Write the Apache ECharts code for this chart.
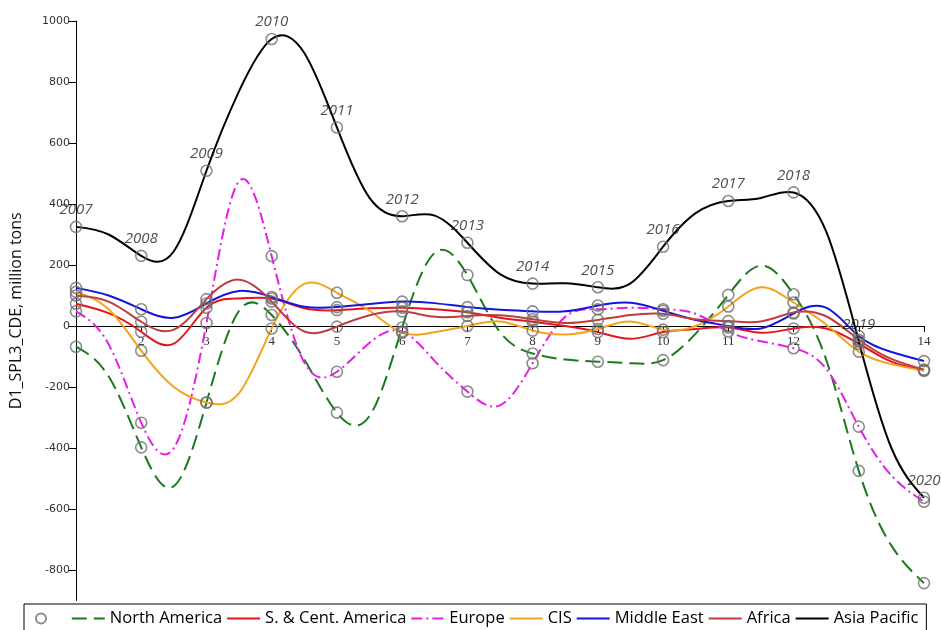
<!DOCTYPE html>
<html>
<head>
<meta charset="utf-8">
<script src="https://cdn.jsdelivr.net/npm/echarts@6/dist/echarts.min.js"></script>
<style>
  html, body { margin: 0; padding: 0; background: #fff; }
  #chart { width: 941px; height: 630px; }
</style>
</head>
<body>
<div id="chart"></div>
<script>
// Curve samples every half step; whole steps are the yearly points (1 = 2007 ... 14 = 2020)
const steps = [1, 1.5, 2, 2.5, 3, 3.5, 4, 4.5, 5, 5.5, 6, 6.5, 7, 7.5, 8,
               8.5, 9, 9.5, 10, 10.5, 11, 11.5, 12, 12.5, 13, 13.5, 14];
const years = ['2007', '2008', '2009', '2010', '2011', '2012', '2013',
               '2014', '2015', '2016', '2017', '2018', '2019', '2020'];
const xTickLabels = ['', '2', '3', '4', '5', '6', '7', '8', '9', '10', '11', '12', '13', '14'];
const yTickValues = [-800, -600, -400, -200, 0, 200, 400, 600, 800, 1000];

// D1_SPL3_CDE, million tons, per region (one value per entry of steps)
const northAmerica = [-68, -165, -398, -525, -251, 50, 36, -110, -284, -295, -5, 240, 167, -20,
                      -90, -110, -117, -122, -112, -25, 102, 198, 104, -110, -475, -720, -843];
const southCentAmerica = [73, 42, -19, -58, 60, 90, 90, 58, 52, 58, 60, 55, 45, 27,
                          14, 0, -20, -42, -20, -10, -5, -22, -8, -8, -58, -117, -145];
const europe = [48, -60, -317, -400, 10, 475, 229, -120, -150, -55, -18, -115, -215, -260,
                -122, 30, 55, 60, 55, 40, -18, -50, -73, -140, -330, -490, -576];
const cis = [112, 55, -81, -200, -251, -220, -8, 138, 109, 50, -22, -20, 0, 15,
             -15, -28, -10, 15, -12, 0, 64, 127, 77, 5, -84, -125, -147];
const middleEast = [125, 100, 55, 27, 74, 115, 95, 63, 62, 72, 80, 75, 62, 53,
                    48, 48, 67, 76, 50, 20, 0, -8, 41, 60, -33, -85, -115];
const africa = [100, 80, 14, -12, 88, 152, 80, -18, -2, 35, 48, 30, 33, 35,
                22, 10, 20, 36, 40, 22, 16, 15, 44, 32, -45, -108, -143];
const asiaPacific = [325, 300, 230, 245, 509, 770, 941, 895, 651, 420, 360, 362, 273, 170,
                     139, 140, 127, 140, 260, 370, 410, 420, 438, 310, -50, -400, -563];

const regionNames = ['North America', 'S. & Cent. America', 'Europe', 'CIS',
                     'Middle East', 'Africa', 'Asia Pacific'];
const regionValues = [northAmerica, southCentAmerica, europe, cis,
                      middleEast, africa, asiaPacific];

// Line appearance per region (same order as regionNames)
const regionStyles = [
  { color: '#1b7a1b', dash: [15, 7] },
  { color: '#e8141b', dash: null },
  { color: '#e61ee6', dash: [11, 4, 2, 4] },
  { color: '#f5a31a', dash: null },
  { color: '#1414dc', dash: null },
  { color: '#c23c3c', dash: null },
  { color: '#000000', dash: null }
];

// Natural cubic spline through the samples, returned as cubic Bezier segments
function splineSegments(xs, ys) {
  const n = xs.length;
  const h = [];
  for (let i = 0; i < n - 1; i++) h.push(xs[i + 1] - xs[i]);
  const M = new Array(n).fill(0);
  const cp = new Array(n).fill(0);
  const dp = new Array(n).fill(0);
  for (let i = 1; i < n - 1; i++) {
    const a = h[i - 1], b = 2 * (h[i - 1] + h[i]), c = h[i];
    const d = 6 * ((ys[i + 1] - ys[i]) / h[i] - (ys[i] - ys[i - 1]) / h[i - 1]);
    const denom = b - a * cp[i - 1];
    cp[i] = c / denom;
    dp[i] = (d - a * dp[i - 1]) / denom;
  }
  for (let i = n - 2; i >= 1; i--) M[i] = dp[i] - cp[i] * M[i + 1];
  const segs = [];
  for (let i = 0; i < n - 1; i++) {
    const hi = h[i];
    const s = (ys[i + 1] - ys[i]) / hi;
    const d0 = s - hi * (2 * M[i] + M[i + 1]) / 6;
    const d1 = s + hi * (M[i] + 2 * M[i + 1]) / 6;
    segs.push({
      c1: [xs[i] + hi / 3, ys[i] + d0 * hi / 3],
      c2: [xs[i + 1] - hi / 3, ys[i + 1] - d1 * hi / 3],
      end: [xs[i + 1], ys[i + 1]]
    });
  }
  return segs;
}

const series = [];

// Empty line series: they only supply the legend line samples
regionNames.forEach((name, k) => {
  series.push({
    name: name,
    type: 'line',
    data: [],
    symbol: 'none',
    color: regionStyles[k].color,
    lineStyle: {
      color: regionStyles[k].color,
      width: 2,
      type: regionStyles[k].dash || 'solid'
    }
  });
});

// Spline curves drawn through the axis coordinate system
regionNames.forEach((name, k) => {
  const vals = regionValues[k];
  const segs = splineSegments(steps, vals);
  const st = regionStyles[k];
  series.push({
    name: name,
    type: 'custom',
    data: steps.map((x, i) => [x, vals[i]]),
    encode: { x: 0, y: 1 },
    z: 2,
    silent: true,
    renderItem: function (params, api) {
      if (params.dataIndex !== 0) return null;
      const p0 = api.coord([steps[0], vals[0]]);
      let d = 'M' + p0[0] + ' ' + p0[1];
      segs.forEach(s => {
        const a = api.coord(s.c1), b = api.coord(s.c2), e = api.coord(s.end);
        d += ' C' + a[0] + ' ' + a[1] + ' ' + b[0] + ' ' + b[1] + ' ' + e[0] + ' ' + e[1];
      });
      return {
        type: 'path',
        shape: { pathData: d },
        style: {
          fill: 'none',
          stroke: st.color,
          lineWidth: 2,
          lineDash: st.dash || null
        }
      };
    }
  });
});

// Hollow markers on the yearly points; Asia Pacific points carry the year
const markerData = [];
regionValues.forEach((vals, k) => {
  steps.forEach((x, i) => {
    if (x % 1 !== 0) return;
    const item = { value: [x, vals[i]] };
    if (k === regionValues.length - 1) {
      item.label = { show: true, formatter: years[x - 1] };
    }
    markerData.push(item);
  });
});

series.push({
  name: ' ',
  type: 'scatter',
  symbol: 'circle',
  symbolSize: 11,
  z: 5,
  itemStyle: { color: 'rgba(0,0,0,0)', borderColor: '#707070', borderWidth: 1.6 },
  label: {
    show: false,
    position: 'top',
    distance: 3,
    fontFamily: 'Open Sans',
    fontStyle: 'italic',
    fontSize: 15,
    color: '#222'
  },
  data: markerData
});

// Legend: the marker entry first, then one line sample per region (no dot on the line)
const legendEntries = [{ name: ' ', icon: 'circle' }].concat(
  regionNames.map(name => ({ name: name, itemStyle: { opacity: 0 } }))
);

const chart = echarts.init(document.getElementById('chart'), null, { renderer: 'canvas' });
chart.setOption({
  animation: false,
  backgroundColor: '#fff',
  grid: { left: 76, right: 17, top: 21, bottom: 29.5, containLabel: false },
  xAxis: {
    type: 'value',
    min: 1,
    max: 14,
    interval: 1,
    axisLine: { onZero: true, lineStyle: { color: '#000', width: 1 } },
    axisTick: { show: true, length: 6, lineStyle: { color: '#000' } },
    axisLabel: {
      // labels sit just under the zero line rather than at the grid bottom
      margin: -265,
      showMaxLabel: true,
      showMinLabel: true,
      fontFamily: 'Liberation Serif',
      fontSize: 13,
      color: '#333',
      formatter: v => xTickLabels[v - 1]
    },
    splitLine: { show: false }
  },
  yAxis: {
    type: 'value',
    min: -900,
    max: 1000,
    name: 'D1_SPL3_CDE, million tons',
    nameLocation: 'middle',
    nameGap: 52,
    nameTextStyle: { fontFamily: 'Open Sans', fontSize: 16, color: '#111' },
    axisLine: { show: true, onZero: false, lineStyle: { color: '#000', width: 1 } },
    axisTick: {
      show: true, length: 8, lineStyle: { color: '#000' },
      customValues: yTickValues
    },
    axisLabel: {
      margin: 6,
      fontFamily: 'DejaVu Sans',
      fontSize: 11,
      color: '#333',
      customValues: yTickValues,
      formatter: v => String(v)
    },
    splitLine: { show: false }
  },
  legend: {
    data: legendEntries,
    left: 24,
    top: 604,
    padding: [6, 8, 10, 11],
    itemGap: 4,
    itemWidth: 33,
    itemHeight: 10,
    borderColor: '#000',
    borderWidth: 1,
    selectedMode: false,
    textStyle: { fontFamily: 'Open Sans', fontSize: 16.5, color: '#000' }
  },
  series: series
});
</script>
</body>
</html>
